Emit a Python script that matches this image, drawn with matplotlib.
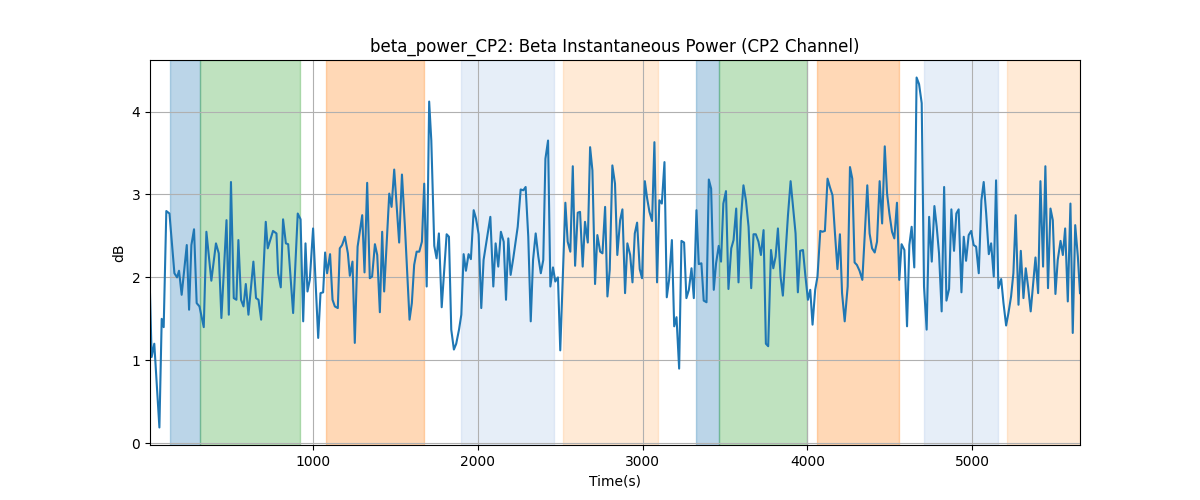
import matplotlib
matplotlib.use("Agg")
import matplotlib.pyplot as plt

# beta power trace (CP2)
time_s = [13, 23, 39, 70, 84, 96, 112, 131, 161, 177, 189, 205, 236, 250, 264, 280, 296, 313, 339, 355,
          385, 413, 430, 446, 477, 491, 504, 521, 537, 549, 565, 580, 594, 610, 640, 656, 671, 687, 715, 727,
          759, 780, 790, 806, 820, 837, 851, 881, 909, 926, 942, 956, 968, 982, 1002, 1033, 1047, 1063, 1075, 1087,
          1105, 1120, 1134, 1152, 1164, 1178, 1195, 1213, 1225, 1241, 1255, 1272, 1300, 1314, 1330, 1346, 1360, 1377, 1391, 1407,
          1421, 1433, 1464, 1478, 1494, 1508, 1524, 1541, 1559, 1587, 1601, 1615, 1630, 1646, 1662, 1676, 1691, 1706, 1719, 1737,
          1751, 1765, 1782, 1812, 1826, 1840, 1856, 1870, 1887, 1901, 1915, 1929, 1945, 1959, 1976, 1990, 2006, 2022, 2036, 2064,
          2077, 2095, 2109, 2125, 2141, 2158, 2172, 2186, 2200, 2216, 2243, 2261, 2277, 2291, 2307, 2322, 2336, 2352, 2368, 2383,
          2398, 2411, 2427, 2441, 2457, 2471, 2487, 2501, 2532, 2546, 2562, 2577, 2591, 2607, 2621, 2637, 2651, 2668, 2682, 2696,
          2712, 2726, 2743, 2757, 2773, 2787, 2801, 2817, 2833, 2847, 2864, 2878, 2894, 2908, 2925, 2939, 2953, 2967, 2983, 2997,
          3014, 3028, 3042, 3058, 3072, 3088, 3102, 3117, 3133, 3147, 3161, 3178, 3192, 3206, 3222, 3236, 3252, 3266, 3281, 3297,
          3311, 3327, 3341, 3357, 3371, 3388, 3402, 3416, 3432, 3446, 3462, 3476, 3490, 3506, 3521, 3538, 3552, 3568, 3582, 3596,
          3612, 3627, 3643, 3659, 3673, 3687, 3703, 3718, 3734, 3748, 3762, 3779, 3793, 3807, 3821, 3837, 3851, 3867, 3882, 3898,
          3912, 3928, 3942, 3956, 3973, 3987, 4003, 4017, 4031, 4047, 4061, 4078, 4091, 4106, 4122, 4136, 4152, 4167, 4182, 4197,
          4210, 4226, 4244, 4258, 4272, 4286, 4300, 4316, 4333, 4347, 4363, 4377, 4392, 4408, 4422, 4438, 4453, 4469, 4483, 4497,
          4513, 4527, 4543, 4557, 4571, 4588, 4604, 4618, 4632, 4648, 4662, 4677, 4693, 4707, 4723, 4738, 4754, 4770, 4784, 4798,
          4814, 4829, 4843, 4859, 4873, 4889, 4903, 4917, 4934, 4948, 4962, 4978, 4993, 5008, 5023, 5039, 5055, 5069, 5084, 5100,
          5114, 5130, 5144, 5158, 5175, 5189, 5205, 5219, 5235, 5249, 5263, 5280, 5294, 5310, 5324, 5338, 5354, 5368, 5383, 5399,
          5413, 5429, 5443, 5459, 5474, 5488, 5504, 5518, 5535, 5549, 5563, 5579, 5595, 5609, 5624, 5640, 5653]
beta_db = [1.8, 1.04, 1.2, 0.19, 1.5, 1.4, 2.8, 2.77, 2.05, 2.0, 2.08, 1.79, 2.39, 1.61, 2.39, 2.58, 1.69, 1.65, 1.4, 2.55,
           1.96, 2.41, 2.29, 1.51, 2.69, 1.55, 3.15, 1.75, 1.73, 2.45, 1.73, 1.65, 1.92, 1.55, 2.19, 1.75, 1.73, 1.49, 2.67, 2.35,
           2.56, 2.53, 2.05, 1.88, 2.7, 2.41, 2.4, 1.57, 2.77, 2.7, 1.47, 2.41, 1.83, 1.97, 2.59, 1.27, 1.81, 1.82, 2.3, 2.05,
           2.28, 1.73, 1.65, 1.63, 2.35, 2.39, 2.49, 2.29, 2.02, 2.19, 1.21, 2.37, 2.75, 2.06, 3.14, 1.99, 2.01, 2.4, 2.27, 1.58,
           2.55, 1.83, 3.01, 2.85, 3.3, 2.89, 2.42, 3.24, 2.61, 1.49, 1.69, 2.15, 2.31, 2.31, 2.43, 3.13, 1.89, 4.12, 3.65, 2.38,
           2.23, 2.53, 1.64, 2.52, 2.49, 1.37, 1.13, 1.2, 1.37, 1.55, 2.28, 2.08, 2.28, 2.22, 2.81, 2.71, 2.52, 1.63, 2.21, 2.56,
           2.73, 1.89, 2.41, 2.13, 2.55, 2.43, 1.73, 2.47, 2.03, 2.23, 2.61, 3.06, 3.05, 3.09, 2.49, 1.47, 2.21, 2.53, 2.25, 2.05,
           2.21, 3.43, 3.65, 1.89, 2.12, 1.95, 2.0, 1.12, 2.9, 2.43, 2.31, 3.34, 2.14, 2.78, 2.79, 2.13, 2.67, 2.42, 3.57, 3.29,
           1.92, 2.51, 2.31, 2.29, 2.85, 1.77, 2.09, 3.35, 3.13, 2.27, 2.69, 2.82, 1.81, 2.41, 2.27, 1.94, 2.53, 2.66, 2.1, 1.99,
           3.16, 2.95, 2.79, 2.68, 3.63, 1.94, 2.93, 2.89, 3.39, 1.76, 1.97, 2.45, 1.41, 1.52, 0.9, 2.44, 2.42, 1.75, 1.85, 2.11,
           1.75, 2.81, 2.16, 2.17, 1.72, 1.7, 3.18, 3.07, 1.85, 2.17, 2.38, 2.19, 2.89, 3.04, 1.86, 2.35, 2.45, 2.83, 1.94, 2.69,
           3.11, 2.93, 2.61, 1.87, 2.52, 2.52, 2.43, 2.27, 2.57, 1.2, 1.17, 2.33, 2.11, 2.25, 2.59, 2.01, 1.78, 2.29, 2.75, 3.16,
           2.87, 2.53, 1.82, 2.32, 2.33, 2.03, 1.73, 1.85, 1.43, 1.85, 2.01, 2.56, 2.55, 2.56, 3.19, 3.09, 2.99, 2.53, 2.1, 2.52,
           1.81, 1.47, 1.89, 3.33, 3.19, 2.18, 2.15, 2.08, 1.97, 2.49, 3.11, 2.53, 2.35, 2.3, 2.43, 3.16, 2.65, 3.58, 3.01, 2.77,
           2.55, 2.47, 2.9, 1.97, 2.4, 2.33, 1.41, 2.39, 2.61, 2.12, 4.41, 4.33, 4.1, 1.89, 1.37, 2.73, 2.19, 2.86, 2.61, 2.29,
           1.59, 3.09, 1.72, 1.86, 2.82, 2.32, 2.77, 2.82, 1.82, 2.49, 2.2, 2.51, 2.56, 2.39, 2.37, 2.05, 2.93, 3.15, 2.77, 2.28,
           2.41, 2.01, 3.17, 1.87, 1.98, 1.69, 1.42, 1.57, 1.77, 2.05, 2.75, 1.67, 2.32, 1.75, 2.11, 1.89, 1.59, 1.91, 2.24, 1.81,
           3.16, 2.13, 3.34, 1.87, 2.83, 2.69, 1.8, 2.21, 2.44, 2.27, 2.59, 1.71, 2.89, 1.33, 2.63, 2.25, 1.81]

# shaded task epochs
span_start = [137, 319, 1083, 1901, 2516, 3322, 3463, 4061, 4709, 5213]
span_end = [315, 925, 1677, 2463, 3091, 3463, 3998, 4556, 5158, 5653]
span_color = ['#1f77b4', '#2ca02c', '#ff7f0e', '#aec7e8', '#ffbb78',
              '#1f77b4', '#2ca02c', '#ff7f0e', '#aec7e8', '#ffbb78']

fig, ax = plt.subplots(figsize=(12, 5), dpi=100)

for s, e, c in zip(span_start, span_end, span_color):
    ax.axvspan(s, e, color=c, alpha=0.3)

ax.plot(time_s, beta_db, color='#1f77b4', lw=1.5)

ax.set_xlim(time_s[0], time_s[-1])
ax.set_title('beta_power_CP2: Beta Instantaneous Power (CP2 Channel)')
ax.set_xlabel('Time(s)')
ax.set_ylabel('dB')
ax.grid(True)

plt.savefig('out.png')
